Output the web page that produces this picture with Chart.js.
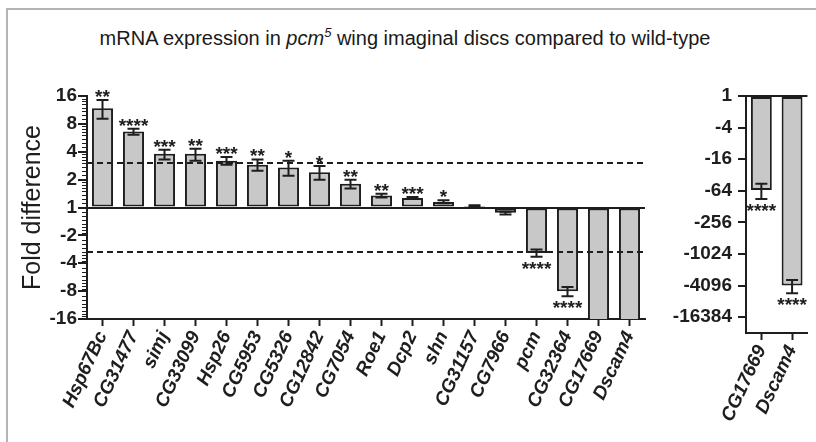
<!DOCTYPE html>
<html><head><meta charset="utf-8">
<script src="https://cdn.jsdelivr.net/npm/chart.js@4"></script>
<style>
html,body{margin:0;padding:0;background:#fff;}
#wrap{position:relative;width:816px;height:442px;overflow:hidden;font-family:"Liberation Sans",Arial,sans-serif;}
#frame{position:absolute;left:6px;top:8px;right:-10px;bottom:-10px;border-left:2px solid #b4b4b4;border-top:2px solid #b4b4b4;}
#title{position:absolute;left:0;width:810px;top:27px;text-align:center;font-size:20px;line-height:22px;color:#1a1a1a;}
#title sup{font-size:13px;line-height:0;vertical-align:8px;}
#left{position:absolute;left:0;top:0;}
#right{position:absolute;left:660px;top:0;}
</style></head><body>
<div id="wrap">
<div id="frame"></div>
<div id="title">mRNA expression in <i>pcm</i><sup><i>5</i></sup> wing imaginal discs compared to wild-type</div>
<canvas id="left" width="660" height="442"></canvas>
<canvas id="right" width="156" height="442"></canvas>
</div>
<script>
// ---- data (fold difference, pcm5 vs wild-type; negative = fold decrease) ----
const genes = ["Hsp67Bc","CG31477","simj","CG33099","Hsp26","CG5953","CG5326","CG12842","CG7054","Roe1","Dcp2","shn","CG31157","CG7966","pcm","CG32364","CG17669","Dscam4"];
const foldChange = [11.8, 6.6, 3.8, 3.8, 3.2, 2.9, 2.7, 2.4, 1.8, 1.35, 1.27, 1.15, 1.04, -1.14, -3.1, -8.0, -62, -4100];
const errorHigh  = [14.5, 7.1, 4.2, 4.3, 3.5, 3.3, 3.2, 2.8, 2.0, 1.41, 1.30, 1.20, 1.06, -1.11, -2.85, -7.2, -47, -3200];
const errorLow   = [9.1, 6.1, 3.3, 3.2, 2.9, 2.5, 2.2, 2.0, 1.6, 1.28, 1.24, 1.11, 1.02, -1.19, -3.4, -9.1, -92, -5700];
const significance = ["**","****","***","**","***","**","*","*","**","**","***","*","","","****","****","****","****"];
const leftTickLabels = [16, 8, 4, 2, 1, -2, -4, -8, -16];
const rightTickLabels = [1, -4, -16, -64, -256, -1024, -4096, -16384];
const rightGenes = ["CG17669","Dscam4"];
const thresholds = [3, -3];

// ---- helpers ----
const FONT = '"Liberation Sans", Arial, sans-serif';
const INK = '#1e1e1e';
const toLog = f => f >= 1 ? Math.log2(f) : (f <= -1 ? -Math.log2(-f) : 0);

function makePlugin(indices, withDashes, withMinor) {
  return {
    id: 'extras',
    afterDatasetsDraw(chart) {
      const {ctx, chartArea} = chart;
      const xs = chart.scales.x, ys = chart.scales.y;
      ctx.save();
      ctx.strokeStyle = INK;
      ctx.fillStyle = INK;
      ctx.lineWidth = 2;
      if (withDashes) {
        ctx.setLineDash([6, 4]);
        thresholds.forEach(t => {
          const y = Math.round(ys.getPixelForValue(toLog(t)));
          ctx.beginPath();
          ctx.moveTo(chartArea.left, y);
          ctx.lineTo(chartArea.right, y);
          ctx.stroke();
        });
        ctx.setLineDash([]);
      }
      indices.forEach((g, pos) => {
        const x = xs.getPixelForValue(pos);
        const hiV = toLog(errorHigh[g]), loV = toLog(errorLow[g]);
        if (Math.max(hiV, loV) < ys.min) return; // off-axis
        const y1 = ys.getPixelForValue(hiV), y2 = ys.getPixelForValue(loV);
        const top = Math.min(y1, y2), bot = Math.max(y1, y2);
        ctx.beginPath();
        ctx.moveTo(x, top); ctx.lineTo(x, bot);
        ctx.moveTo(x - 6, top); ctx.lineTo(x + 6, top);
        ctx.moveTo(x - 6, bot); ctx.lineTo(x + 6, bot);
        ctx.stroke();
        const s = significance[g];
        if (s) {
          ctx.font = 'bold 19px ' + FONT;
          ctx.textAlign = 'center';
          ctx.textBaseline = 'alphabetic';
          if (foldChange[g] > 0) ctx.fillText(s, x, top + 3);
          else ctx.fillText(s, x, bot + 18);
        }
      });
      if (withMinor) {
        const ax = chartArea.left;
        ctx.lineWidth = 1;
        ctx.beginPath();
        for (let k = 0; k < 4; k++) {
          for (let j = 1; j < 8; j++) {
            const f = Math.pow(2, k) * (1 + j / 8);
            [f, -f].forEach(v => {
              const y = Math.round(ys.getPixelForValue(toLog(v))) + 0.5;
              ctx.moveTo(ax - 5, y); ctx.lineTo(ax, y);
            });
          }
        }
        ctx.stroke();
      }
      ctx.restore();
    }
  };
}

function yScale(tickList, min, max, withTitle, tickLen, pad) {
  return {
    type: 'linear', min, max,
    afterBuildTicks: s => { s.ticks = tickList.map(t => ({value: toLog(t)})); },
    afterFit: s => { s.width = withTitle ? 87 : 86; },
    ticks: {
      callback: (v, i) => String(tickList[i]),
      font: {family: FONT, size: 19, weight: 'bold'},
      color: INK, padding: pad, autoSkip: false
    },
    grid: {
      drawOnChartArea: true,
      color: c => (c.tick && c.tick.value === 0) ? INK : 'rgba(0,0,0,0)',
      tickColor: INK, lineWidth: 2, tickWidth: 2, tickLength: tickLen
    },
    border: {display: true, color: INK, width: 2},
    title: withTitle ? {
      display: true, text: 'Fold difference', color: INK,
      font: {family: FONT, size: 25, weight: 'normal'},
      padding: {top: 18, bottom: 0}
    } : {display: false}
  };
}

function xScale(height) {
  return {
    type: 'category', offset: true,
    afterFit: s => { s.height = height; },
    ticks: {
      font: {family: FONT, size: 19, weight: 'bold', style: 'italic'},
      color: INK, minRotation: 65, maxRotation: 65, autoSkip: false, padding: 2
    },
    grid: {drawOnChartArea: false, tickColor: INK, tickWidth: 2, tickLength: 7, offset: false},
    border: {display: true, color: INK, width: 2}
  };
}

function dataset(indices) {
  return {
    data: indices.map(g => toLog(foldChange[g])),
    backgroundColor: '#c8c8c8', borderColor: INK, borderWidth: 2,
    borderSkipped: false, categoryPercentage: 1, barPercentage: 0.68, clip: 0
  };
}

const common = {
  responsive: false, animation: false, devicePixelRatio: 1,
  plugins: {legend: {display: false}, tooltip: {enabled: false}, title: {display: false}}
};

const leftIdx = genes.map((g, i) => i);
new Chart(document.getElementById('left'), {
  type: 'bar',
  data: {labels: leftIdx.map(i => genes[i]), datasets: [dataset(leftIdx)]},
  options: Object.assign({}, common, {
    layout: {padding: {left: 0, top: 96, right: 15, bottom: 0}},
    scales: {x: xScale(442 - 319), y: yScale(leftTickLabels, toLog(-16), toLog(16), true, 9, 1)}
  }),
  plugins: [makePlugin(leftIdx, true, true)]
});

const rightIdx = rightGenes.map(n => genes.indexOf(n));
new Chart(document.getElementById('right'), {
  type: 'bar',
  data: {labels: rightIdx.map(i => genes[i]), datasets: [dataset(rightIdx)]},
  options: Object.assign({}, common, {
    layout: {padding: {left: 0, top: 96, right: 5, bottom: 0}},
    scales: {x: xScale(442 - 333), y: yScale(rightTickLabels, toLog(-32768), toLog(1), false, 8, 6)}
  }),
  plugins: [makePlugin(rightIdx, false, false)]
});
</script>
</body></html>
